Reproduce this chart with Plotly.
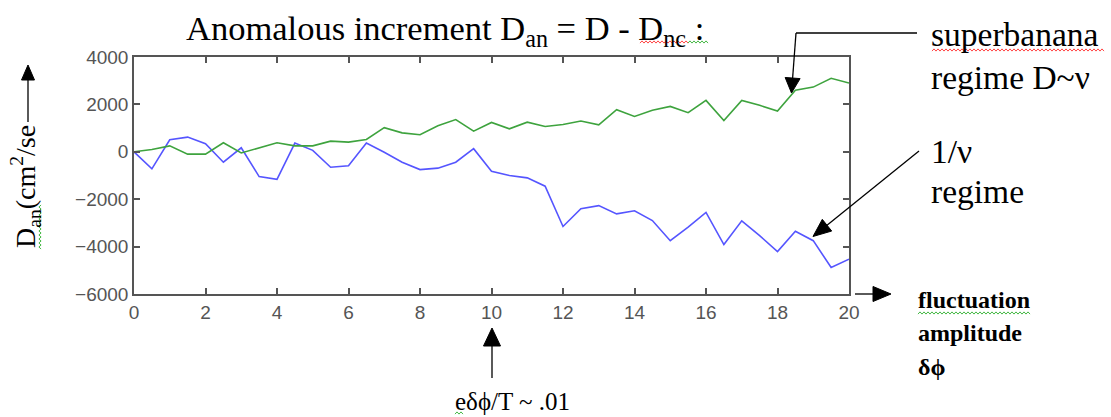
import math
import plotly.graph_objects as go

# ---- data ----
amplitude = [0, 0.5, 1, 1.5, 2, 2.5, 3, 3.5, 4, 4.5, 5, 5.5, 6, 6.5, 7, 7.5, 8, 8.5, 9, 9.5,
             10, 10.5, 11, 11.5, 12, 12.5, 13, 13.5, 14, 14.5, 15, 15.5, 16, 16.5, 17, 17.5,
             18, 18.5, 19, 19.5, 20]
superbanana_D = [0, 100, 250, -100, -100, 380, -50, 170, 380, 250, 250, 450, 410, 520, 1020,
                 800, 720, 1100, 1360, 870, 1240, 970, 1250, 1070, 1150, 1300, 1140, 1775,
                 1490, 1750, 1915, 1650, 2170, 1320, 2170, 1960, 1720, 2600, 2730, 3100, 2900]
inv_nu_D = [0, -720, 510, 620, 340, -440, 170, -1045, -1160, 370, 60, -650, -590, 370, -20,
            -440, -750, -690, -440, 130, -820, -1000, -1100, -1450, -3150, -2400, -2270,
            -2620, -2490, -2900, -3750, -3180, -2560, -3915, -2915, -3535, -4210, -3350,
            -3750, -4880, -4530]
x_ticks = [0, 2, 4, 6, 8, 10, 12, 14, 16, 18, 20]
y_ticks = [-6000, -4000, -2000, 0, 2000, 4000]

# ---- layout geometry (pixels) ----
W, H = 1111, 417
L, R, T, B = 134, 849, 57, 294


def px(x):
    return (x - L) / (R - L)


def py(y):
    return (B - y) / (B - T)


fig = go.Figure()
fig.add_trace(go.Scatter(x=amplitude, y=inv_nu_D, mode="lines",
                         line=dict(color="#5555ff", width=1.6), showlegend=False))
fig.add_trace(go.Scatter(x=amplitude, y=superbanana_D, mode="lines",
                         line=dict(color="#3ea33e", width=1.6), showlegend=False))

shapes = []


def line(x0, y0, x1, y1, w=1.3):
    shapes.append(dict(type="line", xref="paper", yref="paper",
                       x0=px(x0), y0=py(y0), x1=px(x1), y1=py(y1),
                       line=dict(color="black", width=w)))


def arrow(x0, y0, x1, y1, hl=16, hw=13, w=1.3):
    dx, dy = x1 - x0, y1 - y0
    d = math.hypot(dx, dy)
    ux, uy = dx / d, dy / d
    bx, by = x1 - ux * hl, y1 - uy * hl
    nx, ny = -uy, ux
    line(x0, y0, bx + ux * 2, by + uy * 2, w)
    p1 = (bx + nx * hw / 2, by + ny * hw / 2)
    p2 = (bx - nx * hw / 2, by - ny * hw / 2)
    path = "M {:.5f},{:.5f} L {:.5f},{:.5f} L {:.5f},{:.5f} Z".format(
        px(x1), py(y1), px(p1[0]), py(p1[1]), px(p2[0]), py(p2[1]))
    shapes.append(dict(type="path", xref="paper", yref="paper", path=path,
                       fillcolor="black", line=dict(color="black", width=1)))


def squiggle(a0, a1, c, color, vertical=False, step=2.0, amp=1.1):
    pts = []
    n = int((a1 - a0) / step)
    for i in range(n + 1):
        a = a0 + i * step
        o = amp if i % 2 == 0 else -amp
        pts.append((c + o, a) if vertical else (a, c + o))
    path = "M " + " L ".join("{:.5f},{:.5f}".format(px(x), py(y)) for x, y in pts)
    shapes.append(dict(type="path", xref="paper", yref="paper", path=path,
                       line=dict(color=color, width=0.9)))


# superbanana pointer (bent)
line(917, 33, 796, 33)
arrow(796, 33, 791.5, 93, hl=15, hw=15)
# 1/nu pointer
arrow(919, 151, 813, 236.5, hl=18, hw=15)
# x-axis arrow
arrow(855, 294, 891, 294, hl=18, hw=15)
# y-axis arrow
arrow(28, 122, 28, 65, hl=15, hw=13)
# bottom pointer to 10
arrow(492, 378, 492, 328, hl=18, hw=17)

# spell-check style wavy underlines seen in the reference
squiggle(640, 688, 42, "#ff3030")
squiggle(688, 708, 42, "#30b030")
squiggle(932, 1105, 50, "#ff3030")
squiggle(918, 1031, 313, "#30b030")
squiggle(455, 464, 413, "#30b030")
squiggle(205, 250, 40, "#30b030", vertical=True)

serif = "Liberation Serif, Times New Roman, serif"
annotations = []


def text(s, x, y, size, xanchor="left", angle=0, weight="normal"):
    annotations.append(dict(text=s, xref="paper", yref="paper", x=px(x), y=py(y),
                            xanchor=xanchor, yanchor="middle", showarrow=False,
                            textangle=angle,
                            font=dict(family=serif, size=size, color="black", weight=weight)))


text("Anomalous increment D<sub>an</sub> = D - D<sub>nc</sub> :", 445, 30, 34.5, xanchor="center")
text("superbanana", 929, 34, 33.5)
text("regime D~ν", 929, 77, 33.5)
text("1/ν", 929, 151, 33.5)
text("regime", 929, 191, 33.5)
text("fluctuation", 916, 300, 24, weight="bold")
text("amplitude", 916, 333, 24, weight="bold")
text("δϕ", 916, 367, 24, weight="bold")
text("eδϕ/T ~ .01", 512, 401, 25, xanchor="center")
annotations.append(dict(text="D<sub>an</sub>(cm<sup>2</sup>/se", xref="paper", yref="paper",
                        x=px(25), y=py(187), xanchor="center", yanchor="middle",
                        showarrow=False, textangle=-90,
                        font=dict(family=serif, size=28, color="black")))

axis_common = dict(showline=True, linecolor="#555555", linewidth=1.5, mirror="ticks",
                   ticks="inside", ticklen=6, tickwidth=1.5, tickcolor="#555555",
                   showgrid=False, zeroline=False,
                   tickfont=dict(family="Liberation Sans, Arial, sans-serif", size=19,
                                 color="#555555"))

fig.update_layout(
    width=W, height=H,
    margin=dict(l=L, r=W - R, t=T, b=H - B, pad=0),
    paper_bgcolor="white", plot_bgcolor="white",
    xaxis=dict(range=[0, 20], tickvals=x_ticks, **axis_common),
    yaxis=dict(range=[-6000, 4000], tickvals=y_ticks, **axis_common),
    shapes=shapes, annotations=annotations,
)

fig.write_html("out.html", config={"displayModeBar": False},
               post_script="document.body.style.margin='0';document.body.style.padding='0';")
